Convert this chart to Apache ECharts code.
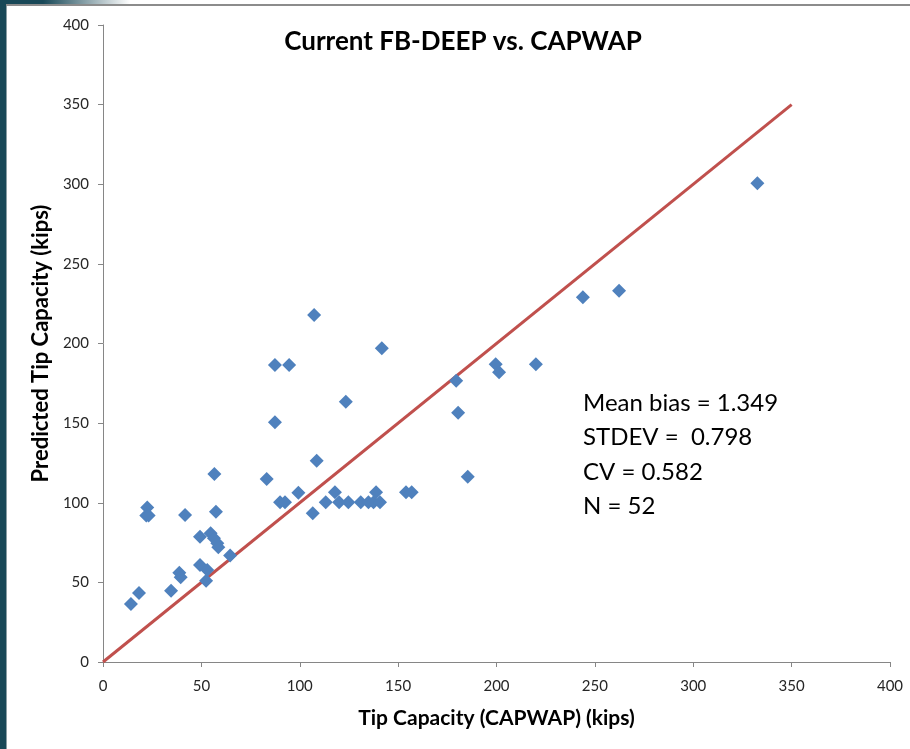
<!DOCTYPE html>
<html>
<head>
<meta charset="utf-8">
<script src="https://cdn.jsdelivr.net/npm/echarts@6/dist/echarts.min.js"></script>
<style>
html,body{margin:0;padding:0;background:#fff;}
#frameL{position:absolute;left:0;top:0;width:6px;height:749px;background:#184857;}
#frameL2{position:absolute;left:6px;top:0;width:1px;height:749px;background:#8a9ea4;}
#frameT{position:absolute;left:0;top:0;width:910px;height:4px;background:linear-gradient(to right,#184857 0px,#184857 43px,#ffffff 130px,#ffffff 910px);}
#frameT2{position:absolute;left:6px;top:4px;width:904px;height:2px;background:#8c8c8c;}
#chart{position:absolute;left:0;top:0;width:910px;height:749px;}
</style>
</head>
<body>
<div id="chart"></div>
<div id="frameL"></div><div id="frameL2"></div><div id="frameT"></div><div id="frameT2"></div>
<script>
const capwap = [14.2,18.3,22.5,22,23.2,34.6,38.8,39.5,41.7,49.3,49.3,52.4,53,54.7,56.6,57.4,56.4,58.1,58.6,64.6,83.2,87.4,87.4,94.6,90,92.5,99.3,106.6,108.6,107.3,113.2,117.9,120,124.7,123.4,141.7,131,134.9,137.5,138.8,140.8,154,156.9,179.5,180.5,185.4,199.6,201.3,220,243.9,262.3,332.6];
const predicted = [36.4,43.3,97,92,92,44.8,56,53.2,92.3,78.7,60.9,51,57.8,80.8,118,94.4,77.7,74.5,72,66.8,114.9,186.5,150.5,186.5,100.3,100.3,106.3,93.4,126.4,217.9,100.3,106.6,100.3,100.3,163.5,197,100.3,100.3,100.3,106.6,100.3,106.6,106.6,176.6,156.5,116.4,186.9,181.9,186.9,229,233.2,300.6];
const lineX = [0,350];
const lineY = [0,350];
const statsLines = ['Mean bias = 1.349','STDEV =  0.798','CV = 0.582','N = 52'];
const titleText = 'Current FB-DEEP vs. CAPWAP';
const xTitle = 'Tip Capacity (CAPWAP) (kips)';
const yTitle = 'Predicted Tip Capacity (kips)';

const FONT = 'Lato, "Open Sans", sans-serif';
const chart = echarts.init(document.getElementById('chart'), null, {renderer:'canvas'});
const axisCommon = {
  min:0, max:400, interval:50,
  axisLine:{show:true, onZero:false, lineStyle:{color:'#868686', width:1}},
  axisTick:{show:true, length:5, lineStyle:{color:'#868686'}},
  splitLine:{show:false},
  axisLabel:{color:'#262626', fontFamily:FONT, fontSize:15}
};
chart.setOption({
  animation:false,
  backgroundColor:'#ffffff',
  title:{text:titleText, left:458, top:24, textAlign:'center',
    textStyle:{fontFamily:FONT, fontWeight:'bold', fontSize:26, color:'#000'}},
  grid:{left:103, right:20, top:25, bottom:87},
  xAxis:Object.assign({type:'value', name:xTitle, nameLocation:'middle', nameGap:46,
    nameTextStyle:{fontFamily:FONT, fontWeight:'bold', fontSize:21, color:'#000'}}, axisCommon,
    {axisLabel:Object.assign({}, axisCommon.axisLabel, {margin:17})}),
  yAxis:Object.assign({type:'value', name:yTitle, nameLocation:'middle', nameGap:50,
    nameTextStyle:{fontFamily:FONT, fontWeight:'bold', fontSize:22, color:'#000'}}, axisCommon,
    {axisLabel:Object.assign({}, axisCommon.axisLabel, {margin:14})}),
  graphic:[{type:'text', left:583, top:386, style:{text:statsLines.join('\n'), fontFamily:FONT, fontSize:24, lineHeight:34.5, fill:'#000'}}],
  series:[
    {type:'line', data:lineX.map((x,i)=>[x,lineY[i]]), symbol:'none', lineStyle:{color:'#C0504D', width:3}, z:1},
    {type:'scatter', data:capwap.map((x,i)=>[x,predicted[i]]), symbol:'diamond', symbolSize:14, itemStyle:{color:'#4F81BD', opacity:1}, z:2}
  ]
});
</script>
</body>
</html>
